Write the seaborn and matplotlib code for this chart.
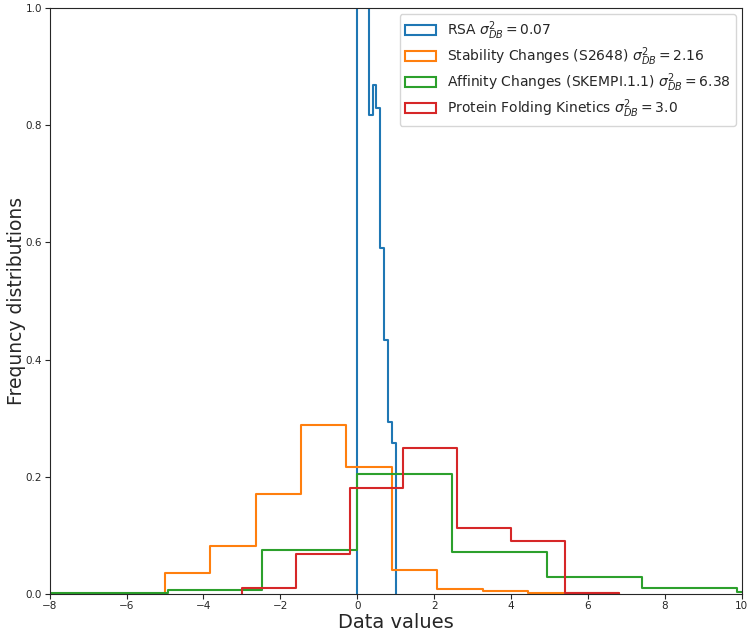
import numpy as np
import pandas as pd
import seaborn as sns
import matplotlib.pyplot as plt
from matplotlib.patches import Patch

# bin edges and bin heights (density)
rsa_edges = [0.0, 0.1, 0.2, 0.3, 0.4, 0.5, 0.6, 0.7, 0.8, 0.9, 1.0]
rsa_heights = [2.3, 1.9, 1.7, 0.817, 0.869, 0.830, 0.590, 0.433, 0.294, 0.257]

stab_edges = [-5.0, -3.82, -2.64, -1.46, -0.28, 0.9, 2.08, 3.26, 4.44, 5.62, 6.8]
stab_heights = [0.036, 0.081, 0.170, 0.288, 0.216, 0.041, 0.008, 0.004, 0.0012, 0.0005]

aff_edges = [-9.87, -7.4, -4.93, -2.47, 0.0, 2.47, 4.93, 7.4, 9.87, 12.33]
aff_heights = [0.0008, 0.0008, 0.0056, 0.075, 0.205, 0.071, 0.0285, 0.0097, 0.003]

fold_edges = [-3.0, -1.6, -0.2, 1.2, 2.6, 4.0, 5.4, 6.8]
fold_heights = [0.010, 0.068, 0.181, 0.249, 0.112, 0.090, 0.001]

labels = [
    r"RSA $\sigma^2_{DB} = 0.07$",
    r"Stability Changes (S2648) $\sigma^2_{DB} = 2.16$",
    r"Affinity Changes (SKEMPI.1.1) $\sigma^2_{DB} = 6.38$",
    r"Protein Folding Kinetics $\sigma^2_{DB} = 3.0$",
]
colors = ["#1f77b4", "#ff7f0e", "#2ca02c", "#d62728"]

sns.set_style("ticks")
fig = plt.figure(figsize=(7.53, 6.33), dpi=100)
ax = fig.add_axes([0.066, 0.062, 0.919, 0.925])

series = [(rsa_edges, rsa_heights), (stab_edges, stab_heights),
          (aff_edges, aff_heights), (fold_edges, fold_heights)]
for (edges, heights), color in zip(series, colors):
    edges = np.asarray(edges, dtype=float)
    df = pd.DataFrame({"x": (edges[:-1] + edges[1:]) / 2, "w": heights})
    # tiny empty bin on each side so the outline drops to zero at the ends
    bins = [edges[0] - 1e-6] + list(edges) + [edges[-1] + 1e-6]
    sns.histplot(data=df, x="x", weights="w", bins=bins, element="step",
                 fill=False, color=color, linewidth=1.5, ax=ax)

ax.set_xlim(-8, 10)
ax.set_ylim(0, 1)
ax.set_xticks(np.arange(-8, 11, 2))
ax.set_yticks(np.arange(0, 1.01, 0.2))
ax.tick_params(labelsize=7.5, length=3.5, pad=2)
ax.set_xlabel("Data values", fontsize=14, labelpad=1)
ax.set_ylabel("Frequncy distributions", fontsize=13.5, labelpad=0)

handles = [Patch(facecolor="none", edgecolor=c, linewidth=1.5, label=l)
           for c, l in zip(colors, labels)]
ax.legend(handles=handles, loc="upper right", fontsize=10, frameon=True,
          labelspacing=0.25, handlelength=2.2, borderaxespad=0.4)

fig.savefig("out.png", dpi=100)
